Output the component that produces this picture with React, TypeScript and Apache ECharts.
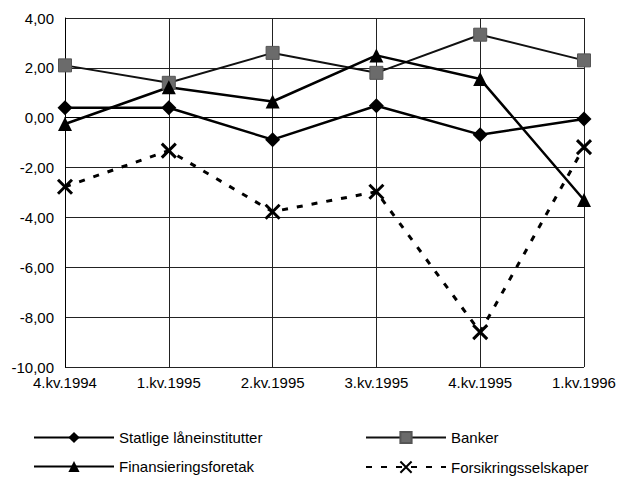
import React, { useEffect, useRef } from "react";
import * as echarts from "echarts";

const categories = ["4.kv.1994", "1.kv.1995", "2.kv.1995", "3.kv.1995", "4.kv.1995", "1.kv.1996"];
const statlige = [0.4, 0.4, -0.88, 0.48, -0.68, -0.05];
const banker = [2.1, 1.4, 2.6, 1.8, 3.33, 2.3];
const finansiering = [-0.25, 1.22, 0.65, 2.5, 1.55, -3.3];
const forsikring = [-2.77, -1.32, -3.77, -2.97, -8.6, -1.18];

const FONT = "Liberation Sans, Arial, sans-serif";
const xSym = "path://M0,0L10,10M10,0L0,10";

export default function App() {
  const ref = useRef<HTMLDivElement>(null);
  useEffect(() => {
    const chart = echarts.init(ref.current!, null, { renderer: "svg" });
    const legendText = { color: "#000", fontFamily: FONT, fontSize: 15 };
    const leg = (name: string, left: number, top: number) => ({
      data: [name],
      left,
      top,
      padding: 0,
      itemWidth: 80,
      itemHeight: 14,
      textStyle: legendText,
    });
    chart.setOption({
      animation: false,
      backgroundColor: "#fff",
      grid: { left: 65, right: 37, top: 18, bottom: 110 },
      legend: [
        leg("Statlige låneinstitutter", 33, 430),
        leg("Finansieringsforetak", 33, 459),
        leg("Banker", 365, 430),
        leg("Forsikringsselskaper", 365, 459),
      ],
      xAxis: {
        type: "category",
        data: categories,
        boundaryGap: false,
        axisLine: { lineStyle: { color: "#000", width: 1 } },
        axisTick: { show: false },
        axisLabel: { color: "#000", fontFamily: FONT, fontSize: 15, margin: 8 },
        splitLine: { show: true, lineStyle: { color: "#222", width: 1 } },
      },
      yAxis: {
        type: "value",
        min: -10,
        max: 4,
        interval: 2,
        axisLine: { show: true, lineStyle: { color: "#000", width: 1 } },
        axisTick: { show: false },
        axisLabel: {
          color: "#000",
          fontFamily: FONT,
          fontSize: 15,
          margin: 11,
          formatter: (v: number) => v.toFixed(2).replace(".", ","),
        },
        splitLine: { show: true, lineStyle: { color: "#222", width: 1 } },
      },
      series: [
        {
          name: "Statlige låneinstitutter",
          type: "line",
          data: statlige,
          symbol: "diamond",
          symbolSize: 15,
          lineStyle: { color: "#000", width: 2.5 },
          itemStyle: { color: "#000" },
        },
        {
          name: "Banker",
          type: "line",
          data: banker,
          symbol: "rect",
          symbolSize: 13,
          lineStyle: { color: "#111", width: 2 },
          itemStyle: { color: "#6b6b6b", borderColor: "#555", borderWidth: 1 },
        },
        {
          name: "Finansieringsforetak",
          type: "line",
          data: finansiering,
          symbol: "triangle",
          symbolSize: 14,
          lineStyle: { color: "#000", width: 2.5 },
          itemStyle: { color: "#000" },
        },
        {
          name: "Forsikringsselskaper",
          type: "line",
          data: forsikring,
          symbol: xSym,
          symbolSize: 14,
          lineStyle: { color: "#000", width: 3, type: [6, 9] },
          itemStyle: { color: "none", borderColor: "#000", borderWidth: 3 },
        },
      ],
    });
    return () => chart.dispose();
  }, []);
  return (
    <div
      ref={ref}
      style={{ position: "fixed", left: 0, top: 0, width: 621, height: 477 }}
    />
  );
}
